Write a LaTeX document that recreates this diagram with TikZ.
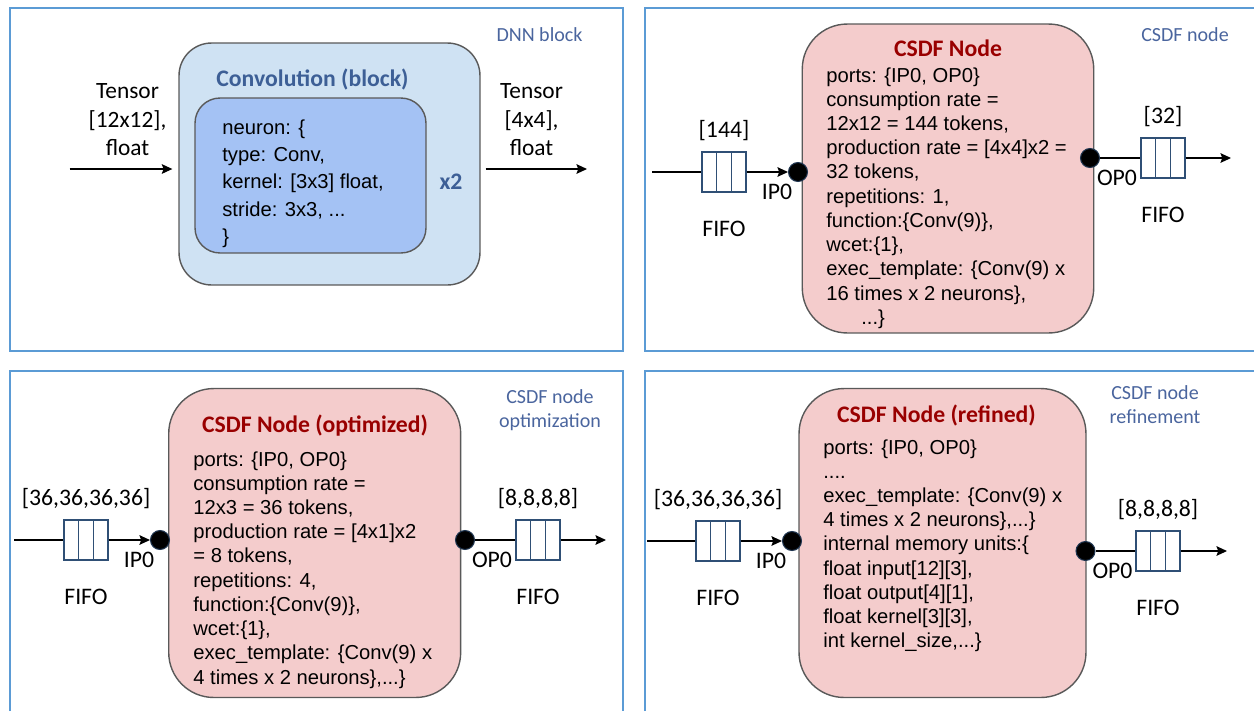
\documentclass[tikz,border=0pt]{standalone}
\usepackage{fontspec}
\setmainfont{Liberation Sans}
\newfontfamily\califont{Carlito}
\usetikzlibrary{arrows.meta, positioning, calc}

\definecolor{panelc}{HTML}{5B9BD5}
\definecolor{edgec}{HTML}{595959}
\definecolor{outerc}{HTML}{CFE2F3}
\definecolor{innerc}{HTML}{A4C2F4}
\definecolor{csdfc}{HTML}{F4CCCC}
\definecolor{redtc}{HTML}{990000}
\definecolor{bluetc}{HTML}{3D5F96}
\definecolor{tagc}{HTML}{4A659E}
\definecolor{fifoc}{HTML}{2F4F75}
\definecolor{portc}{HTML}{1F3550}

\tikzset{
  panel/.style={draw=panelc, line width=1.1pt},
  body/.style={align=left, inner sep=0pt, anchor=north west,
               font=\fontsize{11.5}{13.8}\selectfont},
  ttl/.style={inner sep=0pt, anchor=base,
              font=\califont\bfseries\fontsize{13.5}{16}\selectfont},
  tag/.style={inner sep=0pt, align=center, text=tagc,
              font=\califont\fontsize{11.4}{13.6}\selectfont},
  plbl/.style={inner sep=0pt, font=\califont\fontsize{13.5}{16}\selectfont},
  fifo/.style={rectangle, draw=fifoc, fill=white, line width=0.7pt,
               minimum width=0.88cm, minimum height=0.8cm, inner sep=0pt,
               path picture={
                 \foreach \dx in {-0.147cm, 0.147cm}
                   \draw[fifoc, line width=0.7pt]
                     ([xshift=\dx]path picture bounding box.north) --
                     ([xshift=\dx]path picture bounding box.south);
               }},
  port/.style={circle, fill=black, draw=portc, line width=0.6pt,
               minimum size=0.38cm, inner sep=0pt},
  arr/.style={-{Stealth[length=6pt, width=5.5pt, inset=1pt]}, line width=0.7pt},
  wire/.style={line width=0.7pt},
}

\begin{document}
\begin{tikzpicture}[x=0.02cm, y=-0.02cm,
  outer/.style={rectangle, draw=edgec, fill=outerc, line width=0.8pt,
                rounded corners=0.65cm, minimum width=6.02cm, minimum height=4.84cm},
  inner/.style={rectangle, draw=edgec, fill=innerc, line width=0.8pt,
                rounded corners=0.5cm, minimum width=4.62cm, minimum height=3.1cm},
  csdf/.style={rectangle, draw=edgec, fill=csdfc, line width=0.8pt,
               rounded corners=0.9cm, minimum height=6.18cm},
  tensor/.style={inner sep=0pt, anchor=north, align=center,
                 font=\califont\fontsize{13.3}{16.2}\selectfont},
]
\useasboundingbox (0,0) rectangle (1254,711);

\draw[panel] (10,8) rectangle (623,351);
\draw[panel] (1254,8) -- (645,8) -- (645,351) -- (1254,351);
\draw[panel] (10,711) -- (10,371) -- (623,371) -- (623,711);
\draw[panel] (645,711) -- (645,371) -- (1254,371);

\node[tag] (tagA) at (539.5,35) {DNN block};
\node[outer] (convout) at (329.5,164) {};
\node[inner] (convin) at (310.5,175.5) {};
\node[ttl, text=bluetc] (convttl) at (312.5,86) {Convolution (block)};
\node[body, font=\fontsize{11.5}{15.6}\selectfont] (convtxt) at (222,119)
  {neuron: \{\\type: Conv,\\kernel: [3x3] float,\\stride: 3x3, ...\\\}};
\node[ttl, anchor=center, text=bluetc] (xtwo) at (451,182) {x2};

\node[tensor] (tin) at (127.5,83.5) {Tensor\\{}[12x12],\\float};
\node[tensor] (tout) at (531.5,83.5) {Tensor\\{}[4x4],\\float};
\coordinate (srcA) at (69.5,169);
\coordinate (dstA) at (587,169);
\draw[arr, shorten >=0.12cm] (srcA) -- (srcA -| convout.west);
\draw[arr, shorten <=0.1cm] (dstA -| convout.east) -- (dstA);

\node[tag] (tagB) at (1185,35) {CSDF node};
\node[csdf, minimum width=5.83cm] (csdfA) at (948,178.5) {};
\node[ttl, text=redtc] (ttlA) at (948,56) {CSDF Node};
\node[body] (txtA) at (826,67)
  {ports: \{IP0, OP0\}\\consumption rate =\\12x12 = 144 tokens,\\
   production rate = [4x4]x2 =\\32 tokens,\\repetitions: 1,\\
   function:\{Conv(9)\},\\wcet:\{1\},\\exec\_template: \{Conv(9) x\\
   16 times x 2 neurons\},\\\hspace*{0.7cm}...\}};

\coordinate (inA) at (652,172);
\node[fifo] (fifoA) at (724,172) {};
\node[port] (ipA) at (798,172) {};
\node[plbl, above=0.2cm of fifoA] (qA) {[144]};
\node[plbl, below=0.57cm of fifoA] (fA) {FIFO};
\node[plbl] (ipAl) at ($(ipA)+(-21,20)$) {IP0};
\draw[wire] (inA) -- (fifoA);
\draw[arr] (fifoA) -- (ipA);

\node[port] (opA) at (1090,158) {};
\node[fifo] (fifoB) at (1163,158) {};
\coordinate (outA) at (1231,158);
\node[plbl, above=0.2cm of fifoB] (qB) {[32]};
\node[plbl, below=0.57cm of fifoB] (fB) {FIFO};
\node[plbl] (opAl) at ($(opA)+(27,20)$) {OP0};
\draw[wire] (opA) -- (fifoB);
\draw[arr] (fifoB) -- (outA);

\node[tag] (tagC) at (550,410) {CSDF node\\optimization};
\node[csdf, minimum width=5.84cm] (csdfB) at (314.7,543) {};
\node[ttl, text=redtc] (ttlB) at (315,432) {CSDF Node (optimized)};
\node[body] (txtB) at (193,451)
  {ports: \{IP0, OP0\}\\consumption rate =\\12x3 = 36 tokens,\\
   production rate = [4x1]x2\\= 8 tokens,\\repetitions: 4,\\
   function:\{Conv(9)\},\\wcet:\{1\},\\exec\_template: \{Conv(9) x\\
   4 times x 2 neurons\},...\}};

\coordinate (inB) at (14,540);
\node[fifo] (fifoC) at (86,540) {};
\node[port] (ipB) at (160,540) {};
\node[plbl, above=0.2cm of fifoC] (qC) {[36,36,36,36]};
\node[plbl, below=0.57cm of fifoC] (fC) {FIFO};
\node[plbl] (ipBl) at ($(ipB)+(-21,20)$) {IP0};
\draw[wire] (inB) -- (fifoC);
\draw[arr] (fifoC) -- (ipB);

\node[port] (opB) at (465,540) {};
\node[fifo] (fifoD) at (538,540) {};
\coordinate (outB) at (606,540);
\node[plbl, above=0.2cm of fifoD] (qD) {[8,8,8,8]};
\node[plbl, below=0.57cm of fifoD] (fD) {FIFO};
\node[plbl] (opBl) at ($(opB)+(27,20)$) {OP0};
\draw[wire] (opB) -- (fifoD);
\draw[arr] (fifoD) -- (outB);

\node[tag] (tagD) at (1155,405) {CSDF node\\refinement};
\node[csdf, minimum width=5.74cm] (csdfC) at (942.5,543) {};
\node[ttl, text=redtc] (ttlC) at (936.5,422) {CSDF Node (refined)};
\node[body] (txtC) at (823,439)
  {ports: \{IP0, OP0\}\\....\\exec\_template: \{Conv(9) x\\
   4 times x 2 neurons\},...\}\\internal memory units:\{\\
   float input[12][3],\\float output[4][1],\\float kernel[3][3],\\
   int kernel\_size,...\}};

\coordinate (inC) at (647,541);
\node[fifo] (fifoE) at (718,541) {};
\node[port] (ipC) at (792,541) {};
\node[plbl, above=0.2cm of fifoE] (qE) {[36,36,36,36]};
\node[plbl, below=0.57cm of fifoE] (fE) {FIFO};
\node[plbl] (ipCl) at ($(ipC)+(-21,20)$) {IP0};
\draw[wire] (inC) -- (fifoE);
\draw[arr] (fifoE) -- (ipC);

\node[port] (opC) at (1085.5,551) {};
\node[fifo] (fifoF) at (1158,551) {};
\coordinate (outC) at (1227,551);
\node[plbl, above=0.2cm of fifoF] (qF) {[8,8,8,8]};
\node[plbl, below=0.57cm of fifoF] (fF) {FIFO};
\node[plbl] (opCl) at ($(opC)+(27,20)$) {OP0};
\draw[wire] (opC) -- (fifoF);
\draw[arr] (fifoF) -- (outC);

\end{tikzpicture}
\end{document}
